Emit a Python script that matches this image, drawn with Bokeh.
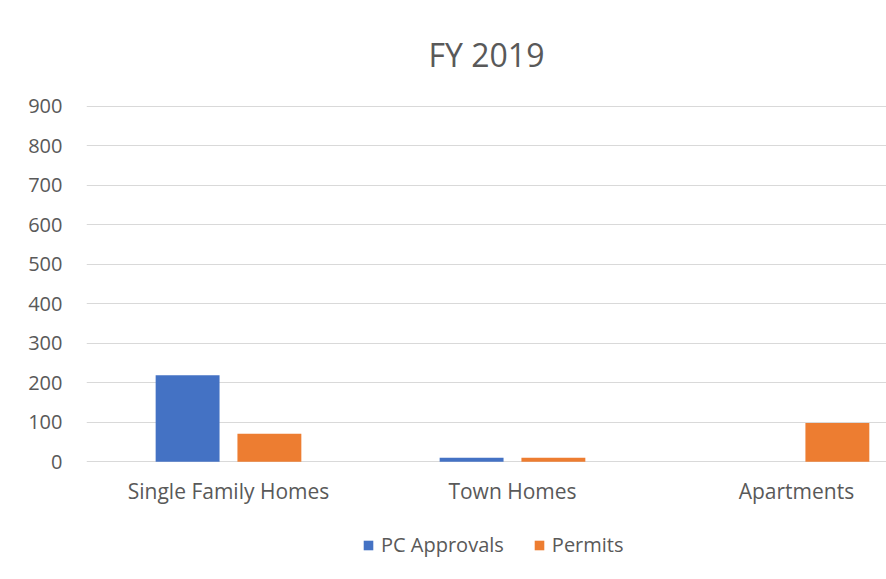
from bokeh.plotting import figure
from bokeh.models import (ColumnDataSource, Range1d, FixedTicker, Legend, LegendItem)
from bokeh.transform import dodge
from bokeh.core.properties import value
from bokeh.embed import file_html
from bokeh.resources import INLINE

categories = ["Single Family Homes", "Town Homes", "Apartments"]
pc_approvals = [219, 10, 0]
permits = [71, 10, 98]
y_ticks = [0, 100, 200, 300, 400, 500, 600, 700, 800, 900]

FONT = "Open Sans"
TXT = "#595959"
GRID = "#d9d9d9"

src = ColumnDataSource(dict(
    x=list(range(len(categories))),
    cat=categories,
    base=[0] * len(categories),
    pc=pc_approvals,
    permits=permits,
))

# frame runs to the bottom of the canvas; y=0 sits where the category axis is
p = figure(width=886, height=579, output_backend="svg", toolbar_location=None,
           x_range=Range1d(-0.5, 2.317), y_range=Range1d(-298.3, 902),
           x_axis_location=None,
           min_border_left=86, min_border_right=0, min_border_top=104,
           min_border_bottom=0)

p.title.text = "FY 2019"
p.title.align = "center"
p.title.text_font = FONT
p.title.text_font_size = "32px"
p.title.text_font_style = "normal"
p.title.text_color = TXT
p.title.standoff = 60

r1 = p.vbar(x=dodge("x", -0.144, range=p.x_range), top="pc", width=0.225,
            source=src, fill_color="#4472C4", line_color=None)
r2 = p.vbar(x=dodge("x", 0.144, range=p.x_range), top="permits", width=0.225,
            source=src, fill_color="#ED7D31", line_color=None)

# category labels under the baseline
p.text(x="x", y="base", text="cat", source=src, y_offset=15,
       text_align="center", text_baseline="top",
       text_font=value(FONT), text_font_size="21px", text_color=TXT)

p.xgrid.grid_line_color = None
p.ygrid.grid_line_color = GRID
p.ygrid.grid_line_width = 1
p.ygrid.ticker = FixedTicker(ticks=y_ticks)

p.yaxis.ticker = FixedTicker(ticks=y_ticks)
p.yaxis.axis_line_color = None
p.yaxis.major_tick_line_color = None
p.yaxis.minor_tick_line_color = None
p.yaxis.major_tick_out = 0
p.yaxis.major_tick_in = 0
p.yaxis.major_label_standoff = 24
p.yaxis.major_label_text_font = FONT
p.yaxis.major_label_text_font_size = "20px"
p.yaxis.major_label_text_color = TXT

p.outline_line_color = None

legend = Legend(items=[LegendItem(label="PC Approvals", renderers=[r1]),
                       LegendItem(label="Permits", renderers=[r2])],
                orientation="horizontal", location=(276, 21),
                glyph_width=12, glyph_height=12, label_standoff=7, spacing=29,
                padding=0, margin=0, border_line_color=None,
                background_fill_alpha=0,
                label_text_font=FONT, label_text_font_size="20px",
                label_text_color=TXT)
p.add_layout(legend, "center")

open("out.html", "w").write(file_html(p, INLINE))
